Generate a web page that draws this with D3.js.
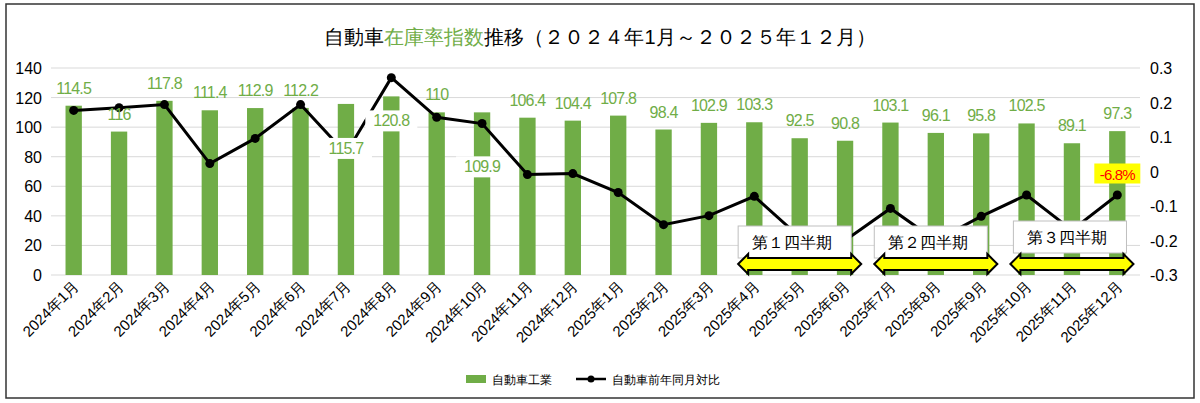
<!DOCTYPE html>
<html><head><meta charset="utf-8">
<script src="https://cdn.jsdelivr.net/npm/d3@7"></script>
<style>body{margin:0;background:#fff}text{font-family:"Liberation Sans",Arial,sans-serif}</style>
</head><body><svg id="c" width="1200" height="403"></svg>
<script>
"use strict"

const months = ["2024年1月","2024年2月","2024年3月","2024年4月","2024年5月","2024年6月","2024年7月","2024年8月","2024年9月","2024年10月","2024年11月","2024年12月",
  "2025年1月","2025年2月","2025年3月","2025年4月","2025年5月","2025年6月","2025年7月","2025年8月","2025年9月","2025年10月","2025年11月","2025年12月"]
const barValues = [114.5,97,117.8,111.4,112.9,113,115.7,120.8,110,110,106.4,104.4,107.8,98.4,102.9,103.3,92.5,90.8,103.1,96.1,95.8,102.5,89.1,97.3]
const barLabels = ["114.5","116","117.8","111.4","112.9","112.2","115.7","120.8","110","109.9","106.4","104.4","107.8","98.4","102.9","103.3","92.5","90.8","103.1","96.1","95.8","102.5","89.1","97.3"]
const labelOffsets = [-12,-12,-12,-12,-12,-12,50,30,-12,60,-12,-12,-12,-12,-12,-12,-12,-12,-12,-12,-12,-12,-12,-12]
const yoy = [0.177,0.185,0.194,0.023,0.096,0.194,0.052,0.272,0.157,0.139,-0.009,-0.006,-0.061,-0.154,-0.128,-0.072,-0.19,-0.2,-0.107,-0.2,-0.13,-0.068,-0.17,-0.068]
const leftTicks = [0,20,40,60,80,100,120,140]
const rightTicks = [-0.3,-0.2,-0.1,0,0.1,0.2,0.3]
const quarters = [["第１四半期",15,17],["第２四半期",18,20],["第３四半期",21,23]]

const svg = d3.select("#c")
svg.append("rect").attr("x",6).attr("y",4).attr("width",1188).attr("height",394)
    .attr("fill","#fff").attr("stroke","#333").attr("stroke-width",1.5)

const x = d3.scaleBand().domain(months).range([51,1140]).paddingInner(0.64).paddingOuter(0.32)
const y = d3.scaleLinear().domain([0,140]).range([275,68])
const y2 = d3.scaleLinear().domain([-0.3,0.3]).range([275,68])

svg.append("g").selectAll("line").data(leftTicks).join("line")
    .attr("x1",51).attr("x2",1140).attr("y1",d=>y(d)).attr("y2",d=>y(d))
    .attr("stroke","#d9d9d9")
svg.append("g").selectAll("text").data(leftTicks).join("text")
    .attr("x",42).attr("y",d=>y(d)+6).attr("text-anchor","end").attr("font-size",16).text(d=>d)
svg.append("g").selectAll("text").data(rightTicks).join("text")
    .attr("x",1150).attr("y",d=>y2(d)+6).attr("font-size",16).text(d=>d===0?"0":String(d))

svg.append("g").selectAll("rect").data(barValues).join("rect")
    .attr("x",(d,i)=>x(months[i])).attr("width",x.bandwidth())
    .attr("y",d=>y(d)).attr("height",d=>y(0)-y(d)).attr("fill","#70ad47")

svg.append("g").selectAll("text").data(months).join("text")
    .attr("transform",d=>`translate(${x(d)+x.bandwidth()/2+6},${287}) rotate(-45)`)
    .attr("text-anchor","end").attr("font-size",15).text(d=>d)

const line = d3.line().x((d,i)=>x(months[i])+x.bandwidth()/2).y(d=>y2(d))
svg.append("path").datum(yoy).attr("d",line).attr("fill","none").attr("stroke","#000").attr("stroke-width",3)
svg.append("g").selectAll("circle").data(yoy).join("circle")
    .attr("cx",(d,i)=>x(months[i])+x.bandwidth()/2).attr("cy",d=>y2(d)).attr("r",4.5)

// data labels with white background
const lab = svg.append("g").selectAll("g").data(barLabels).join("g")
    .attr("transform",(d,i)=>`translate(${x(months[i])+x.bandwidth()/2},${y(barValues[i])+labelOffsets[i]})`)
lab.append("rect").attr("x",-26).attr("y",-16).attr("width",52).attr("height",21).attr("fill","#fff")
    .attr("opacity",(d,i)=>labelOffsets[i]>0?1:0)
lab.append("text").attr("text-anchor","middle").attr("font-size",16).attr("fill","#70ad47")
    .attr("letter-spacing",-0.8).text(d=>d)

// -6.8% label
const last = months.length-1
const lx = x(months[last])+x.bandwidth()/2
svg.append("rect").attr("x",lx-23).attr("y",y2(0)-8).attr("width",46).attr("height",20).attr("fill","#ffff00")
svg.append("text").attr("x",lx).attr("y",y2(0)+8).attr("text-anchor","middle").attr("font-size",15)
    .attr("fill","#ff0000").attr("letter-spacing",-0.8).text("-6.8%")

// quarter boxes and arrows
quarters.forEach(([name,a,b],k)=>{
    const x0 = x(months[a])-8, x1 = x(months[b])+x.bandwidth()+8
    const bx = x0 + (k===2?3:0)
    svg.append("rect").attr("x",bx).attr("y",k===2?221:226).attr("width",x1-x0-10).attr("height",32)
        .attr("fill","#fff").attr("stroke","#bfbfbf")
    svg.append("text").attr("x",bx+14).attr("y",k===2?243:248).attr("font-size",16)
        .attr("font-family","Noto Sans CJK JP").text(name)
    const ay = 264, h = 6, hw = 10
    const pts = [[x0,ay],[x0+hw,ay-h-4],[x0+hw,ay-h],[x1-hw,ay-h],[x1-hw,ay-h-4],[x1,ay],[x1-hw,ay+h+4],[x1-hw,ay+h],[x0+hw,ay+h],[x0+hw,ay+h+4]]
    svg.append("polygon").attr("points",pts.map(p=>p.join(",")).join(" "))
        .attr("fill","#ffff00").attr("stroke","#000").attr("stroke-width",2)
})

// title
const t = svg.append("text").attr("x",600).attr("y",44).attr("text-anchor","middle").attr("font-size",20)
    .attr("font-family","Noto Sans CJK JP")
t.append("tspan").text("自動車")
t.append("tspan").attr("fill","#70ad47").text("在庫率指数")
t.append("tspan").text("推移（２０２４年1月～２０２５年１２月）")

// legend
const lg = svg.append("g").attr("transform","translate(466,380)")
lg.append("rect").attr("x",0).attr("y",-5).attr("width",20).attr("height",8).attr("fill","#70ad47")
lg.append("text").attr("x",26).attr("y",4).attr("font-size",12).attr("font-family","Noto Sans CJK JP").text("自動車工業")
lg.append("line").attr("x1",110).attr("x2",140).attr("y1",-1).attr("y2",-1).attr("stroke","#000").attr("stroke-width",2.5)
lg.append("circle").attr("cx",125).attr("cy",-1).attr("r",3.5)
lg.append("text").attr("x",146).attr("y",4).attr("font-size",12).attr("font-family","Noto Sans CJK JP").text("自動車前年同月対比")
</script></body></html>
